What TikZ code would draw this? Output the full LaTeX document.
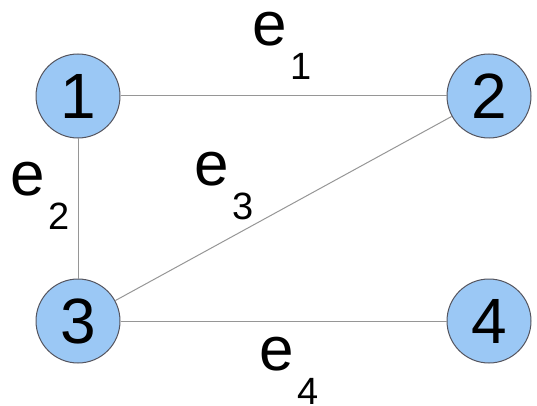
\documentclass[tikz,border=0pt]{standalone}
\usepackage{fontspec}
\setmainfont{Liberation Sans}
\definecolor{vfill}{RGB}{155,200,245}
\definecolor{vline}{RGB}{85,85,95}
\definecolor{eline}{RGB}{150,150,150}
\newcommand{\elab}[1]{{\fontsize{62}{62}\selectfont e}\kern4pt\raisebox{-34pt}{\fontsize{38}{38}\selectfont #1}}

\begin{document}
\begin{tikzpicture}[x=1pt, y=-1pt,
    vertex/.style={circle, draw=vline, line width=1pt, fill=vfill, minimum size=84pt, inner sep=0pt, font=\fontsize{64}{64}\selectfont},
    edgelab/.style={anchor=base west, inner sep=0pt}]
    \useasboundingbox (0,0) rectangle (537,406);
    % Define vertices
    \node[vertex] (v1) at (78, 96) {1};
    \node[vertex] (v2) at (489, 96) {2};
    \node[vertex] (v3) at (78, 321) {3};
    \node[vertex] (v4) at (489, 321) {4};

    % Draw edges
    \draw[eline, line width=1pt] (v1) -- (v2); % Edge 1 - 2
    \draw[eline, line width=1pt] (v1) -- (v3); % Edge 1 - 3
    \draw[eline, line width=1pt] (v3) -- (v2); % Edge 3 - 2
    \draw[eline, line width=1pt] (v3) -- (v4); % Edge 3 - 4

    % Edge labels
    \node[edgelab] (e1) at (252, 46) {\elab{1}};
    \node[edgelab] (e2) at (10, 195) {\elab{2}};
    \node[edgelab] (e3) at (194, 185) {\elab{3}};
    \node[edgelab] (e4) at (259, 370) {\elab{4}};
\end{tikzpicture}
\end{document}
